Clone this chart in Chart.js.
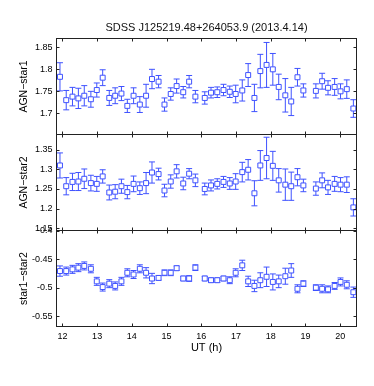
<!DOCTYPE html>
<html><head><meta charset="utf-8">
<script src="https://cdn.jsdelivr.net/npm/chart.js@4/dist/chart.umd.min.js"></script>
<style>
html,body{margin:0;padding:0;background:#fff;}
#wrap{position:relative;width:374px;height:386px;overflow:hidden;background:#fff;}
canvas{position:absolute;left:0;}
</style></head><body>
<div id="wrap">
<canvas id="c1" width="374" height="147" style="top:0px"></canvas>
<canvas id="c2" width="374" height="127" style="top:119px"></canvas>
<canvas id="c3" width="374" height="171" style="top:215px"></canvas>
</div>
<script>
// ---- data (UT hours) ----
const times = [11.93,12.11,12.29,12.46,12.63,12.82,12.99,13.16,13.35,13.52,
  13.70,13.87,14.05,14.23,14.41,14.58,14.77,14.94,15.12,15.29,
  15.48,15.65,15.83,16.10,16.28,16.46,16.64,16.82,16.99,17.18,
  17.35,17.53,17.70,17.88,18.06,18.23,18.42,18.59,18.77,18.94,
  19.30,19.48,19.65,19.84,20.01,20.19,20.38];

const agnStar1 = [1.783,1.730,1.738,1.734,1.740,1.732,1.753,1.781,1.735,1.740,
  1.745,1.717,1.740,1.720,1.740,1.778,1.772,1.720,1.744,1.762,
  1.748,1.772,1.738,1.735,1.747,1.748,1.753,1.749,1.744,1.752,
  1.787,1.735,1.796,1.810,1.800,1.760,1.741,1.727,1.782,1.752,
  1.751,1.773,1.758,1.760,1.750,1.755,1.711];
const agnStar1Err = [0.032,0.022,0.021,0.023,0.023,0.018,0.016,0.018,0.017,0.018,
  0.016,0.015,0.018,0.018,0.026,0.022,0.014,0.015,0.014,0.016,
  0.013,0.014,0.014,0.014,0.012,0.012,0.013,0.013,0.020,0.024,
  0.026,0.031,0.038,0.051,0.036,0.029,0.038,0.032,0.020,0.015,
  0.016,0.018,0.016,0.019,0.017,0.021,0.020];

const agnStar2 = [1.310,1.257,1.268,1.269,1.276,1.265,1.263,1.282,1.241,1.243,
  1.257,1.242,1.263,1.252,1.265,1.292,1.288,1.246,1.269,1.295,
  1.264,1.289,1.272,1.250,1.259,1.263,1.268,1.264,1.269,1.293,
  1.299,1.239,1.310,1.329,1.309,1.272,1.261,1.257,1.280,1.259,
  1.251,1.272,1.254,1.263,1.261,1.261,1.203];
const agnStar2Err = [0.032,0.022,0.022,0.023,0.025,0.020,0.019,0.017,0.019,0.018,
  0.018,0.017,0.020,0.016,0.027,0.027,0.015,0.016,0.017,0.017,
  0.016,0.013,0.016,0.015,0.014,0.013,0.014,0.015,0.020,0.025,
  0.026,0.032,0.038,0.053,0.037,0.030,0.040,0.036,0.022,0.016,
  0.017,0.019,0.018,0.019,0.018,0.020,0.022];

const star1Star2 = [-0.471,-0.471,-0.468,-0.465,-0.462,-0.467,-0.489,-0.499,-0.493,-0.497,
  -0.489,-0.474,-0.477,-0.467,-0.474,-0.484,-0.483,-0.474,-0.474,-0.466,
  -0.484,-0.484,-0.465,-0.484,-0.487,-0.487,-0.484,-0.487,-0.474,-0.461,
  -0.489,-0.497,-0.487,-0.481,-0.490,-0.489,-0.480,-0.470,-0.502,-0.493,
  -0.500,-0.502,-0.503,-0.497,-0.490,-0.495,-0.508];
const star1Star2Err = [0.009,0.007,0.007,0.007,0.007,0.007,0.007,0.007,0.007,0.007,
  0.007,0.007,0.007,0.007,0.009,0.009,0.004,0.005,0.005,0.004,
  0.004,0.005,0.005,0.004,0.004,0.004,0.004,0.006,0.007,0.009,
  0.009,0.010,0.013,0.017,0.014,0.011,0.014,0.012,0.007,0.005,
  0.005,0.007,0.006,0.006,0.007,0.007,0.009];

const xTicks = [12,13,14,15,16,17,18,19,20];
const yTicks1 = [1.7,1.75,1.8,1.85];
const yTicks2 = [1.15,1.2,1.25,1.3,1.35];
const yTicks3 = [-0.55,-0.5,-0.45,-0.4];

const titleText = 'SDSS J125219.48+264053.9 (2013.4.14)';
const yTitles = ['AGN\u2212star1','AGN\u2212star2','star1\u2212star2'];
const xTitle = 'UT (h)';

// ---- styling ----
const FONT = '"Liberation Sans", Arial, Helvetica, sans-serif';
const BLUE = '#3f52ff';
const XMIN = 11.83, XMAX = 20.47;

const errorBarPlugin = {
  id: 'errbars',
  beforeDatasetsDraw(chart) {
    const {ctx, chartArea: a, scales: {x, y}} = chart;
    ctx.save();
    ctx.beginPath(); ctx.rect(a.left, a.top, a.right - a.left, a.bottom - a.top); ctx.clip();
    ctx.strokeStyle = BLUE; ctx.lineWidth = 1;
    chart.data.datasets.forEach(ds => {
      ds.data.forEach((p, i) => {
        const e = ds.errors[i];
        const px = x.getPixelForValue(p.x);
        const yt = y.getPixelForValue(p.y + e), yb = y.getPixelForValue(p.y - e);
        ctx.beginPath();
        ctx.moveTo(px, yt); ctx.lineTo(px, yb);
        ctx.moveTo(px - 3, yt); ctx.lineTo(px + 3, yt);
        ctx.moveTo(px - 3, yb); ctx.lineTo(px + 3, yb);
        ctx.stroke();
      });
    });
    ctx.restore();
  }
};

const boxPlugin = {
  id: 'box',
  afterDraw(chart) {
    const {ctx, chartArea: a, scales: {x, y}} = chart;
    const L = 3;
    ctx.save();
    ctx.strokeStyle = '#222'; ctx.lineWidth = 1;
    ctx.strokeRect(a.left, a.top, a.right - a.left, a.bottom - a.top);
    ctx.beginPath();
    x.ticks.forEach(t => {
      const px = Math.round(x.getPixelForValue(t.value)) + 0.5;
      ctx.moveTo(px, a.top); ctx.lineTo(px, a.top + L);
      ctx.moveTo(px, a.bottom); ctx.lineTo(px, a.bottom - L);
    });
    y.ticks.forEach(t => {
      const py = Math.round(y.getPixelForValue(t.value)) + 0.5;
      ctx.moveTo(a.left, py); ctx.lineTo(a.left + L, py);
      ctx.moveTo(a.right, py); ctx.lineTo(a.right - L, py);
    });
    ctx.stroke();
    ctx.restore();
  }
};

function makePanel(id, opt) {
  return new Chart(document.getElementById(id), {
    type: 'scatter',
    data: {
      datasets: [{
        data: times.map((t, i) => ({x: t, y: opt.values[i]})),
        errors: opt.errors,
        pointStyle: 'rect',
        pointRadius: 3.5,
        pointHoverRadius: 3.5,
        borderColor: BLUE,
        backgroundColor: '#fff',
        pointBorderWidth: 1,
        showLine: false
      }]
    },
    options: {
      responsive: false,
      animation: false,
      devicePixelRatio: 1,
      events: [],
      layout: {padding: opt.padding},
      plugins: {
        legend: {display: false},
        tooltip: {enabled: false},
        title: opt.title || {display: false}
      },
      scales: {
        x: {
          type: 'linear', min: XMIN, max: XMAX,
          display: opt.showX,
          afterBuildTicks: s => { s.ticks = xTicks.map(v => ({value: v})); },
          afterFit: s => { s.height = opt.showX ? 30 : 0; },
          grid: {display: false, drawTicks: false},
          border: {display: false},
          ticks: {font: {family: FONT, size: 9}, color: '#000', padding: 5, maxRotation: 0, autoSkip: false,
                  callback: v => String(v)},
          title: {display: true, text: xTitle, color: '#000', font: {family: FONT, size: 11}, padding: {top: 0, bottom: 2.2}}
        },
        y: {
          type: 'linear', min: opt.yMin, max: opt.yMax,
          afterBuildTicks: s => { s.ticks = opt.yTicks.map(v => ({value: v})); },
          afterFit: s => { s.width = 56.5; },
          grid: {display: false, drawTicks: false},
          border: {display: false},
          ticks: {font: {family: FONT, size: 9}, color: '#000', padding: 4, autoSkip: false,
                  callback: v => String(v)},
          title: {display: true, text: opt.yTitle, color: '#000', font: {family: FONT, size: 10.5}, padding: {top: 17.7, bottom: 0}}
        }
      }
    },
    plugins: [errorBarPlugin, boxPlugin]
  });
}

makePanel('c1', {
  values: agnStar1, errors: agnStar1Err, yMin: 1.652, yMax: 1.870, yTicks: yTicks1, yTitle: yTitles[0],
  showX: false, padding: {left: 0, right: 17.5, top: 0, bottom: 12.5},
  title: {display: true, text: titleText, color: '#111', fullSize: false,
          font: {family: FONT, size: 11, weight: 'normal'}, padding: {top: 20.9, bottom: 4.4}}
});
makePanel('c2', {
  values: agnStar2, errors: agnStar2Err, yMin: 1.144, yMax: 1.389, yTicks: yTicks2, yTitle: yTitles[1],
  showX: false, padding: {left: 0, right: 17.5, top: 15.5, bottom: 15.5}
});
makePanel('c3', {
  values: star1Star2, errors: star1Star2Err, yMin: -0.568, yMax: -0.4, yTicks: yTicks3, yTitle: yTitles[2],
  showX: true, padding: {left: 0, right: 17.5, top: 15.5, bottom: 29.5}
});
</script>
</body></html>
